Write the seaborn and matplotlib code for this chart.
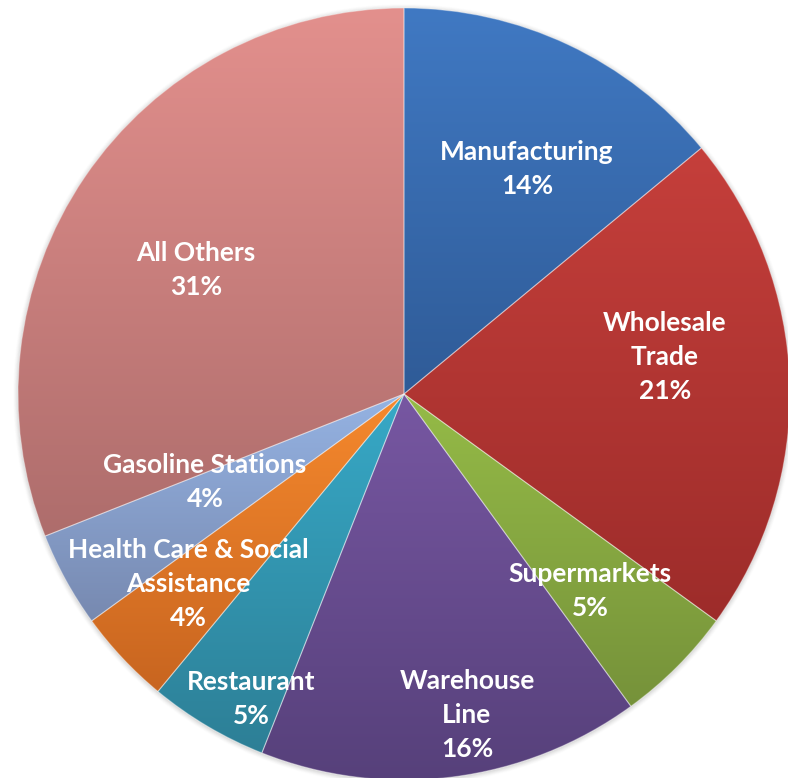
import numpy as np
import matplotlib
matplotlib.use("Agg")
import matplotlib.pyplot as plt
from matplotlib.colors import to_rgb
import seaborn as sns

# Share of establishments by industry (percent)
categories = ["Manufacturing", "Wholesale\nTrade", "Supermarkets", "Warehouse\nLine",
              "Restaurant", "Health Care & Social\nAssistance", "Gasoline Stations", "All Others"]
values = [14, 21, 5, 16, 5, 4, 4, 31]

# Each slice is shaded from a lighter top colour to a darker bottom colour
top_colors = ["#4079C3", "#C53F3B", "#95BB47", "#7757A2",
              "#37A9C7", "#F6892D", "#95B3E3", "#E3908D"]
bottom_colors = ["#2F5B97", "#9D2C2A", "#76923A", "#56407A",
                 "#2D7F96", "#C86520", "#7789B0", "#AE6D6C"]

# Label anchor points in figure pixels (x from left, y from top)
label_pos = [(527, 169), (665, 357), (590, 591), (467, 715),
             (251, 699), (188, 584), (205, 482), (196, 270)]

sns.set_theme(style="white")
plt.rcParams["font.family"] = ["Lato", "DejaVu Sans"]

W, H = 788, 778
fig = plt.figure(figsize=(W / 100, H / 100), dpi=100)
ax = fig.add_axes([0, 0, 1, 1])
ax.set_xlim(0, W)
ax.set_ylim(0, H)
ax.set_aspect("equal")
ax.axis("off")

cx, cy, r = 404, H - 394, 386

# soft shadow around the rim
for k, a in zip(range(6, 0, -1), [0.02, 0.03, 0.04, 0.05, 0.06, 0.08]):
    ax.add_patch(plt.Circle((cx, cy - 1), r + k * 0.8, color="#808080", alpha=a, lw=0, zorder=0))

palette = sns.color_palette(top_colors)
wedges, _ = ax.pie(values, colors=palette, startangle=90, counterclock=False,
                   center=(cx, cy), radius=r, frame=True,
                   wedgeprops=dict(linewidth=0.8, edgecolor=(1, 1, 1, 0.35)))
ax.set_xlim(0, W)
ax.set_ylim(0, H)
ax.axis("off")

for w, c0, c1 in zip(wedges, top_colors, bottom_colors):
    verts = w.get_path().vertices
    y0, y1 = verts[:, 1].min(), verts[:, 1].max()
    x0, x1 = verts[:, 0].min(), verts[:, 0].max()
    t = np.linspace(0, 1, 256)[:, None]
    a, b = np.array(to_rgb(c0)), np.array(to_rgb(c1))
    grad = (a[None, :] * (1 - t) + b[None, :] * t)[:, None, :]
    grad = np.repeat(grad, 2, axis=1)
    im = ax.imshow(grad, extent=(x0, x1, y0, y1), origin="upper",
                   aspect="auto", interpolation="bilinear", zorder=1.5)
    im.set_clip_path(w)
    w.set_facecolor("none")
    w.set_zorder(2)

ax.set_xlim(0, W)
ax.set_ylim(0, H)

for name, v, (px, py) in zip(categories, values, label_pos):
    ax.text(px, H - py, f"{name}\n{v}%", ha="center", va="center",
            color="white", fontsize=19, fontweight="bold",
            linespacing=1.5, zorder=5)

fig.savefig("out.png", dpi=100)
